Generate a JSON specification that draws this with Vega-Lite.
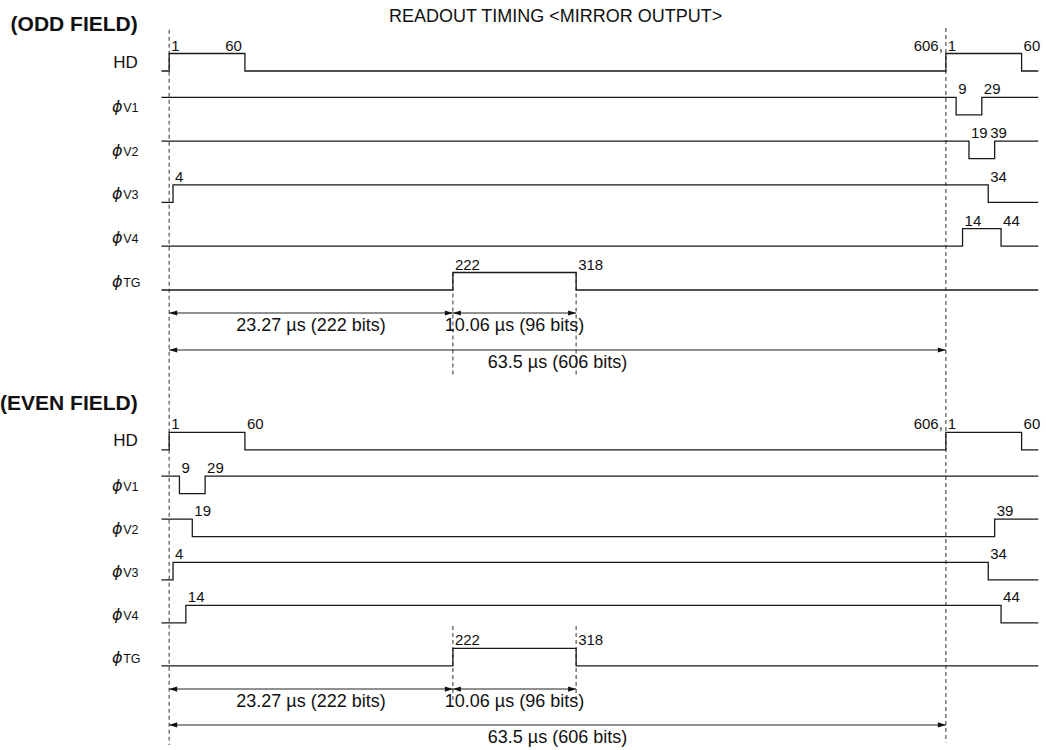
{
  "$schema": "https://vega.github.io/schema/vega-lite/v6.json",
  "width": 1046,
  "height": 750,
  "autosize": {"type": "fit", "contains": "padding"},
  "padding": 0,
  "background": "white",
  "config": {"view": {"stroke": null}, "font": "Liberation Sans"},
  "datasets": {
    "waves": [
      {"fld": "ODD", "sig": "HD", "lane": 0, "t": -5, "level": 0},
      {"fld": "ODD", "sig": "HD", "lane": 0, "t": 1, "level": 1},
      {"fld": "ODD", "sig": "HD", "lane": 0, "t": 60, "level": 0},
      {"fld": "ODD", "sig": "HD", "lane": 0, "t": 606, "level": 1},
      {"fld": "ODD", "sig": "HD", "lane": 0, "t": 665, "level": 0},
      {"fld": "ODD", "sig": "HD", "lane": 0, "t": 678, "level": 0},
      {"fld": "ODD", "sig": "V1", "lane": 1, "t": -5, "level": 1},
      {"fld": "ODD", "sig": "V1", "lane": 1, "t": 614, "level": 0},
      {"fld": "ODD", "sig": "V1", "lane": 1, "t": 634, "level": 1},
      {"fld": "ODD", "sig": "V1", "lane": 1, "t": 678, "level": 1},
      {"fld": "ODD", "sig": "V2", "lane": 2, "t": -5, "level": 1},
      {"fld": "ODD", "sig": "V2", "lane": 2, "t": 624, "level": 0},
      {"fld": "ODD", "sig": "V2", "lane": 2, "t": 644, "level": 1},
      {"fld": "ODD", "sig": "V2", "lane": 2, "t": 678, "level": 1},
      {"fld": "ODD", "sig": "V3", "lane": 3, "t": -5, "level": 0},
      {"fld": "ODD", "sig": "V3", "lane": 3, "t": 4, "level": 1},
      {"fld": "ODD", "sig": "V3", "lane": 3, "t": 639, "level": 0},
      {"fld": "ODD", "sig": "V3", "lane": 3, "t": 678, "level": 0},
      {"fld": "ODD", "sig": "V4", "lane": 4, "t": -5, "level": 0},
      {"fld": "ODD", "sig": "V4", "lane": 4, "t": 619, "level": 1},
      {"fld": "ODD", "sig": "V4", "lane": 4, "t": 649, "level": 0},
      {"fld": "ODD", "sig": "V4", "lane": 4, "t": 678, "level": 0},
      {"fld": "ODD", "sig": "TG", "lane": 5, "t": -5, "level": 0},
      {"fld": "ODD", "sig": "TG", "lane": 5, "t": 222, "level": 1},
      {"fld": "ODD", "sig": "TG", "lane": 5, "t": 318, "level": 0},
      {"fld": "ODD", "sig": "TG", "lane": 5, "t": 678, "level": 0},
      {"fld": "EVEN", "sig": "HD", "lane": 8.65, "t": -5, "level": 0},
      {"fld": "EVEN", "sig": "HD", "lane": 8.65, "t": 1, "level": 1},
      {"fld": "EVEN", "sig": "HD", "lane": 8.65, "t": 60, "level": 0},
      {"fld": "EVEN", "sig": "HD", "lane": 8.65, "t": 606, "level": 1},
      {"fld": "EVEN", "sig": "HD", "lane": 8.65, "t": 665, "level": 0},
      {"fld": "EVEN", "sig": "HD", "lane": 8.65, "t": 678, "level": 0},
      {"fld": "EVEN", "sig": "V1", "lane": 9.65, "t": -5, "level": 1},
      {"fld": "EVEN", "sig": "V1", "lane": 9.65, "t": 9, "level": 0},
      {"fld": "EVEN", "sig": "V1", "lane": 9.65, "t": 29, "level": 1},
      {"fld": "EVEN", "sig": "V1", "lane": 9.65, "t": 678, "level": 1},
      {"fld": "EVEN", "sig": "V2", "lane": 10.63, "t": -5, "level": 1},
      {"fld": "EVEN", "sig": "V2", "lane": 10.63, "t": 19, "level": 0},
      {"fld": "EVEN", "sig": "V2", "lane": 10.63, "t": 644, "level": 1},
      {"fld": "EVEN", "sig": "V2", "lane": 10.63, "t": 678, "level": 1},
      {"fld": "EVEN", "sig": "V3", "lane": 11.62, "t": -5, "level": 0},
      {"fld": "EVEN", "sig": "V3", "lane": 11.62, "t": 4, "level": 1},
      {"fld": "EVEN", "sig": "V3", "lane": 11.62, "t": 639, "level": 0},
      {"fld": "EVEN", "sig": "V3", "lane": 11.62, "t": 678, "level": 0},
      {"fld": "EVEN", "sig": "V4", "lane": 12.6, "t": -5, "level": 0},
      {"fld": "EVEN", "sig": "V4", "lane": 12.6, "t": 14, "level": 1},
      {"fld": "EVEN", "sig": "V4", "lane": 12.6, "t": 649, "level": 0},
      {"fld": "EVEN", "sig": "V4", "lane": 12.6, "t": 678, "level": 0},
      {"fld": "EVEN", "sig": "TG", "lane": 13.58, "t": -5, "level": 0},
      {"fld": "EVEN", "sig": "TG", "lane": 13.58, "t": 222, "level": 1},
      {"fld": "EVEN", "sig": "TG", "lane": 13.58, "t": 318, "level": 0},
      {"fld": "EVEN", "sig": "TG", "lane": 13.58, "t": 678, "level": 0}
    ],
    "edges": [
      {"lane": 0, "t": 1, "text": "1", "side": "after"},
      {"lane": 0, "t": 60, "text": "60", "side": "before"},
      {"lane": 0, "t": 606, "text": "606,", "side": "before"},
      {"lane": 0, "t": 606, "text": "1", "side": "after"},
      {"lane": 0, "t": 665, "text": "60", "side": "after"},
      {"lane": 1, "t": 614, "text": "9", "side": "after"},
      {"lane": 1, "t": 634, "text": "29", "side": "after"},
      {"lane": 2, "t": 624, "text": "19", "side": "after"},
      {"lane": 2, "t": 644, "text": "39", "side": "over"},
      {"lane": 3, "t": 4, "text": "4", "side": "after"},
      {"lane": 3, "t": 639, "text": "34", "side": "after"},
      {"lane": 4, "t": 619, "text": "14", "side": "after"},
      {"lane": 4, "t": 649, "text": "44", "side": "after"},
      {"lane": 5, "t": 222, "text": "222", "side": "after"},
      {"lane": 5, "t": 318, "text": "318", "side": "after"},
      {"lane": 8.65, "t": 1, "text": "1", "side": "after"},
      {"lane": 8.65, "t": 60, "text": "60", "side": "after"},
      {"lane": 8.65, "t": 606, "text": "606,", "side": "before"},
      {"lane": 8.65, "t": 606, "text": "1", "side": "after"},
      {"lane": 8.65, "t": 665, "text": "60", "side": "after"},
      {"lane": 9.65, "t": 9, "text": "9", "side": "after"},
      {"lane": 9.65, "t": 29, "text": "29", "side": "after"},
      {"lane": 10.63, "t": 19, "text": "19", "side": "after"},
      {"lane": 10.63, "t": 644, "text": "39", "side": "after"},
      {"lane": 11.62, "t": 4, "text": "4", "side": "after"},
      {"lane": 11.62, "t": 639, "text": "34", "side": "after"},
      {"lane": 12.6, "t": 14, "text": "14", "side": "after"},
      {"lane": 12.6, "t": 649, "text": "44", "side": "after"},
      {"lane": 13.58, "t": 222, "text": "222", "side": "after"},
      {"lane": 13.58, "t": 318, "text": "318", "side": "after"}
    ],
    "arrows": [
      {"lane": 5.525, "t1": 1, "t2": 222, "mid": 111.5, "label": "23.27 µs (222 bits)"},
      {"lane": 5.525, "t1": 222, "t2": 318, "mid": 270, "label": "10.06 µs (96 bits)"},
      {"lane": 6.37, "t1": 1, "t2": 606, "mid": 303.5, "label": "63.5 µs (606 bits)"},
      {"lane": 14.11, "t1": 1, "t2": 222, "mid": 111.5, "label": "23.27 µs (222 bits)"},
      {"lane": 14.11, "t1": 222, "t2": 318, "mid": 270, "label": "10.06 µs (96 bits)"},
      {"lane": 14.93, "t1": 1, "t2": 606, "mid": 303.5, "label": "63.5 µs (606 bits)"}
    ],
    "dashes": [
      {"t": 1, "y1": -0.94, "y2": 15.39},
      {"t": 606, "y1": -0.98, "y2": 15.33},
      {"t": 222, "y1": 4.6, "y2": 7.0},
      {"t": 318, "y1": 4.6, "y2": 7.0},
      {"t": 222, "y1": 12.67, "y2": 14.36},
      {"t": 318, "y1": 12.67, "y2": 14.36}
    ],
    "names": [
      {"lane": 0, "name": "HD"},
      {"lane": 1, "name": "V1"},
      {"lane": 2, "name": "V2"},
      {"lane": 3, "name": "V3"},
      {"lane": 4, "name": "V4"},
      {"lane": 5, "name": "TG"},
      {"lane": 8.65, "name": "HD"},
      {"lane": 9.65, "name": "V1"},
      {"lane": 10.63, "name": "V2"},
      {"lane": 11.62, "name": "V3"},
      {"lane": 12.6, "name": "V4"},
      {"lane": 13.58, "name": "TG"}
    ],
    "headings": [
      {"kind": "field", "lane": -1.06, "text": "(ODD FIELD)"},
      {"kind": "field", "lane": 7.61, "text": "(EVEN FIELD)"},
      {"kind": "title", "lane": -1.24, "text": "READOUT TIMING <MIRROR OUTPUT>"}
    ]
  },
  "layer": [
    {
      "data": {"name": "dashes"},
      "mark": {"type": "rule", "color": "#555555", "strokeWidth": 1.2, "strokeDash": [4, 3]},
      "encoding": {
        "x": {"field": "t", "type": "quantitative", "axis": null, "scale": {"domain": [-130, 684], "nice": false, "zero": false}},
        "y": {"field": "y1", "type": "quantitative", "axis": null, "scale": {"domain": [-1.621, 15.502], "reverse": true, "nice": false, "zero": false}},
        "y2": {"field": "y2"}
      }
    },
    {
      "data": {"name": "waves"},
      "transform": [{"calculate": "datum.lane - 0.3995 * datum.level", "as": "ypos"}],
      "mark": {"type": "line", "interpolate": "step-after", "color": "#1a1a1a", "strokeWidth": 1.3},
      "encoding": {
        "x": {"field": "t", "type": "quantitative", "axis": null, "scale": {"domain": [-130, 684], "nice": false, "zero": false}},
        "y": {"field": "ypos", "type": "quantitative", "axis": null, "scale": {"domain": [-1.621, 15.502], "reverse": true, "nice": false, "zero": false}},
        "detail": {"field": "lane", "type": "nominal"}
      }
    },
    {
      "data": {"name": "edges"},
      "transform": [{"filter": "datum.side === 'after'"}],
      "mark": {"type": "text", "align": "left", "baseline": "alphabetic", "dx": 2, "dy": -20.5, "fontSize": 15, "color": "#111111"},
      "encoding": {
        "x": {"field": "t", "type": "quantitative", "axis": null, "scale": {"domain": [-130, 684], "nice": false, "zero": false}},
        "y": {"field": "lane", "type": "quantitative", "axis": null, "scale": {"domain": [-1.621, 15.502], "reverse": true, "nice": false, "zero": false}},
        "text": {"field": "text"}
      }
    },
    {
      "data": {"name": "edges"},
      "transform": [{"filter": "datum.side === 'before'"}],
      "mark": {"type": "text", "align": "right", "baseline": "alphabetic", "dx": -3, "dy": -20.5, "fontSize": 15, "color": "#111111"},
      "encoding": {
        "x": {"field": "t", "type": "quantitative", "axis": null, "scale": {"domain": [-130, 684], "nice": false, "zero": false}},
        "y": {"field": "lane", "type": "quantitative", "axis": null, "scale": {"domain": [-1.621, 15.502], "reverse": true, "nice": false, "zero": false}},
        "text": {"field": "text"}
      }
    },
    {
      "data": {"name": "edges"},
      "transform": [{"filter": "datum.side === 'over'"}],
      "mark": {"type": "text", "align": "left", "baseline": "alphabetic", "dx": -4.5, "dy": -20.5, "fontSize": 15, "color": "#111111"},
      "encoding": {
        "x": {"field": "t", "type": "quantitative", "axis": null, "scale": {"domain": [-130, 684], "nice": false, "zero": false}},
        "y": {"field": "lane", "type": "quantitative", "axis": null, "scale": {"domain": [-1.621, 15.502], "reverse": true, "nice": false, "zero": false}},
        "text": {"field": "text"}
      }
    },
    {
      "data": {"name": "arrows"},
      "mark": {"type": "rule", "color": "#222222", "strokeWidth": 1.1},
      "encoding": {
        "x": {"field": "t1", "type": "quantitative", "axis": null, "scale": {"domain": [-130, 684], "nice": false, "zero": false}},
        "x2": {"field": "t2"},
        "y": {"field": "lane", "type": "quantitative", "axis": null, "scale": {"domain": [-1.621, 15.502], "reverse": true, "nice": false, "zero": false}}
      }
    },
    {
      "data": {"name": "arrows"},
      "mark": {"type": "point", "shape": "M0,0 L4,-1.3 L4,1.3 Z", "size": 16, "filled": true, "color": "#111111", "opacity": 1},
      "encoding": {
        "x": {"field": "t1", "type": "quantitative", "axis": null, "scale": {"domain": [-130, 684], "nice": false, "zero": false}},
        "y": {"field": "lane", "type": "quantitative", "axis": null, "scale": {"domain": [-1.621, 15.502], "reverse": true, "nice": false, "zero": false}}
      }
    },
    {
      "data": {"name": "arrows"},
      "mark": {"type": "point", "shape": "M0,0 L-4,-1.3 L-4,1.3 Z", "size": 16, "filled": true, "color": "#111111", "opacity": 1},
      "encoding": {
        "x": {"field": "t2", "type": "quantitative", "axis": null, "scale": {"domain": [-130, 684], "nice": false, "zero": false}},
        "y": {"field": "lane", "type": "quantitative", "axis": null, "scale": {"domain": [-1.621, 15.502], "reverse": true, "nice": false, "zero": false}}
      }
    },
    {
      "data": {"name": "arrows"},
      "mark": {"type": "text", "align": "center", "baseline": "middle", "dy": 13, "fontSize": 18, "color": "#111111"},
      "encoding": {
        "x": {"field": "mid", "type": "quantitative", "axis": null, "scale": {"domain": [-130, 684], "nice": false, "zero": false}},
        "y": {"field": "lane", "type": "quantitative", "axis": null, "scale": {"domain": [-1.621, 15.502], "reverse": true, "nice": false, "zero": false}},
        "text": {"field": "label"}
      }
    },
    {
      "data": {"name": "names"},
      "transform": [{"filter": "datum.name === 'HD'"}],
      "mark": {"type": "text", "align": "right", "baseline": "middle", "dy": -8.5, "fontSize": 17, "color": "#111111"},
      "encoding": {
        "x": {"datum": -23.5, "type": "quantitative", "scale": {"domain": [-130, 684], "nice": false, "zero": false}},
        "y": {"field": "lane", "type": "quantitative", "axis": null, "scale": {"domain": [-1.621, 15.502], "reverse": true, "nice": false, "zero": false}},
        "text": {"field": "name"}
      }
    },
    {
      "data": {"name": "names"},
      "transform": [{"filter": "datum.name !== 'HD'"}],
      "mark": {"type": "text", "text": "ϕ", "align": "right", "baseline": "middle", "dy": -8, "fontSize": 16, "font": "DejaVu Sans", "fontStyle": "italic", "color": "#111111"},
      "encoding": {
        "x": {"datum": -35.3, "type": "quantitative", "scale": {"domain": [-130, 684], "nice": false, "zero": false}},
        "y": {"field": "lane", "type": "quantitative", "axis": null, "scale": {"domain": [-1.621, 15.502], "reverse": true, "nice": false, "zero": false}}
      }
    },
    {
      "data": {"name": "names"},
      "transform": [{"filter": "datum.name !== 'HD'"}],
      "mark": {"type": "text", "align": "left", "baseline": "middle", "dy": -7, "fontSize": 12.5, "color": "#111111"},
      "encoding": {
        "x": {"datum": -34.8, "type": "quantitative", "scale": {"domain": [-130, 684], "nice": false, "zero": false}},
        "y": {"field": "lane", "type": "quantitative", "axis": null, "scale": {"domain": [-1.621, 15.502], "reverse": true, "nice": false, "zero": false}},
        "text": {"field": "name"}
      }
    },
    {
      "data": {"name": "headings"},
      "transform": [{"filter": "datum.kind === 'field'"}],
      "mark": {"type": "text", "align": "right", "baseline": "middle", "fontSize": 21, "fontWeight": "bold", "color": "#111111"},
      "encoding": {
        "x": {"datum": -23.5, "type": "quantitative", "scale": {"domain": [-130, 684], "nice": false, "zero": false}},
        "y": {"field": "lane", "type": "quantitative", "axis": null, "scale": {"domain": [-1.621, 15.502], "reverse": true, "nice": false, "zero": false}},
        "text": {"field": "text"}
      }
    },
    {
      "data": {"name": "headings"},
      "transform": [{"filter": "datum.kind === 'title'"}],
      "mark": {"type": "text", "align": "center", "baseline": "middle", "fontSize": 18, "color": "#111111"},
      "encoding": {
        "x": {"datum": 302, "type": "quantitative", "scale": {"domain": [-130, 684], "nice": false, "zero": false}},
        "y": {"field": "lane", "type": "quantitative", "axis": null, "scale": {"domain": [-1.621, 15.502], "reverse": true, "nice": false, "zero": false}},
        "text": {"field": "text"}
      }
    }
  ]
}
